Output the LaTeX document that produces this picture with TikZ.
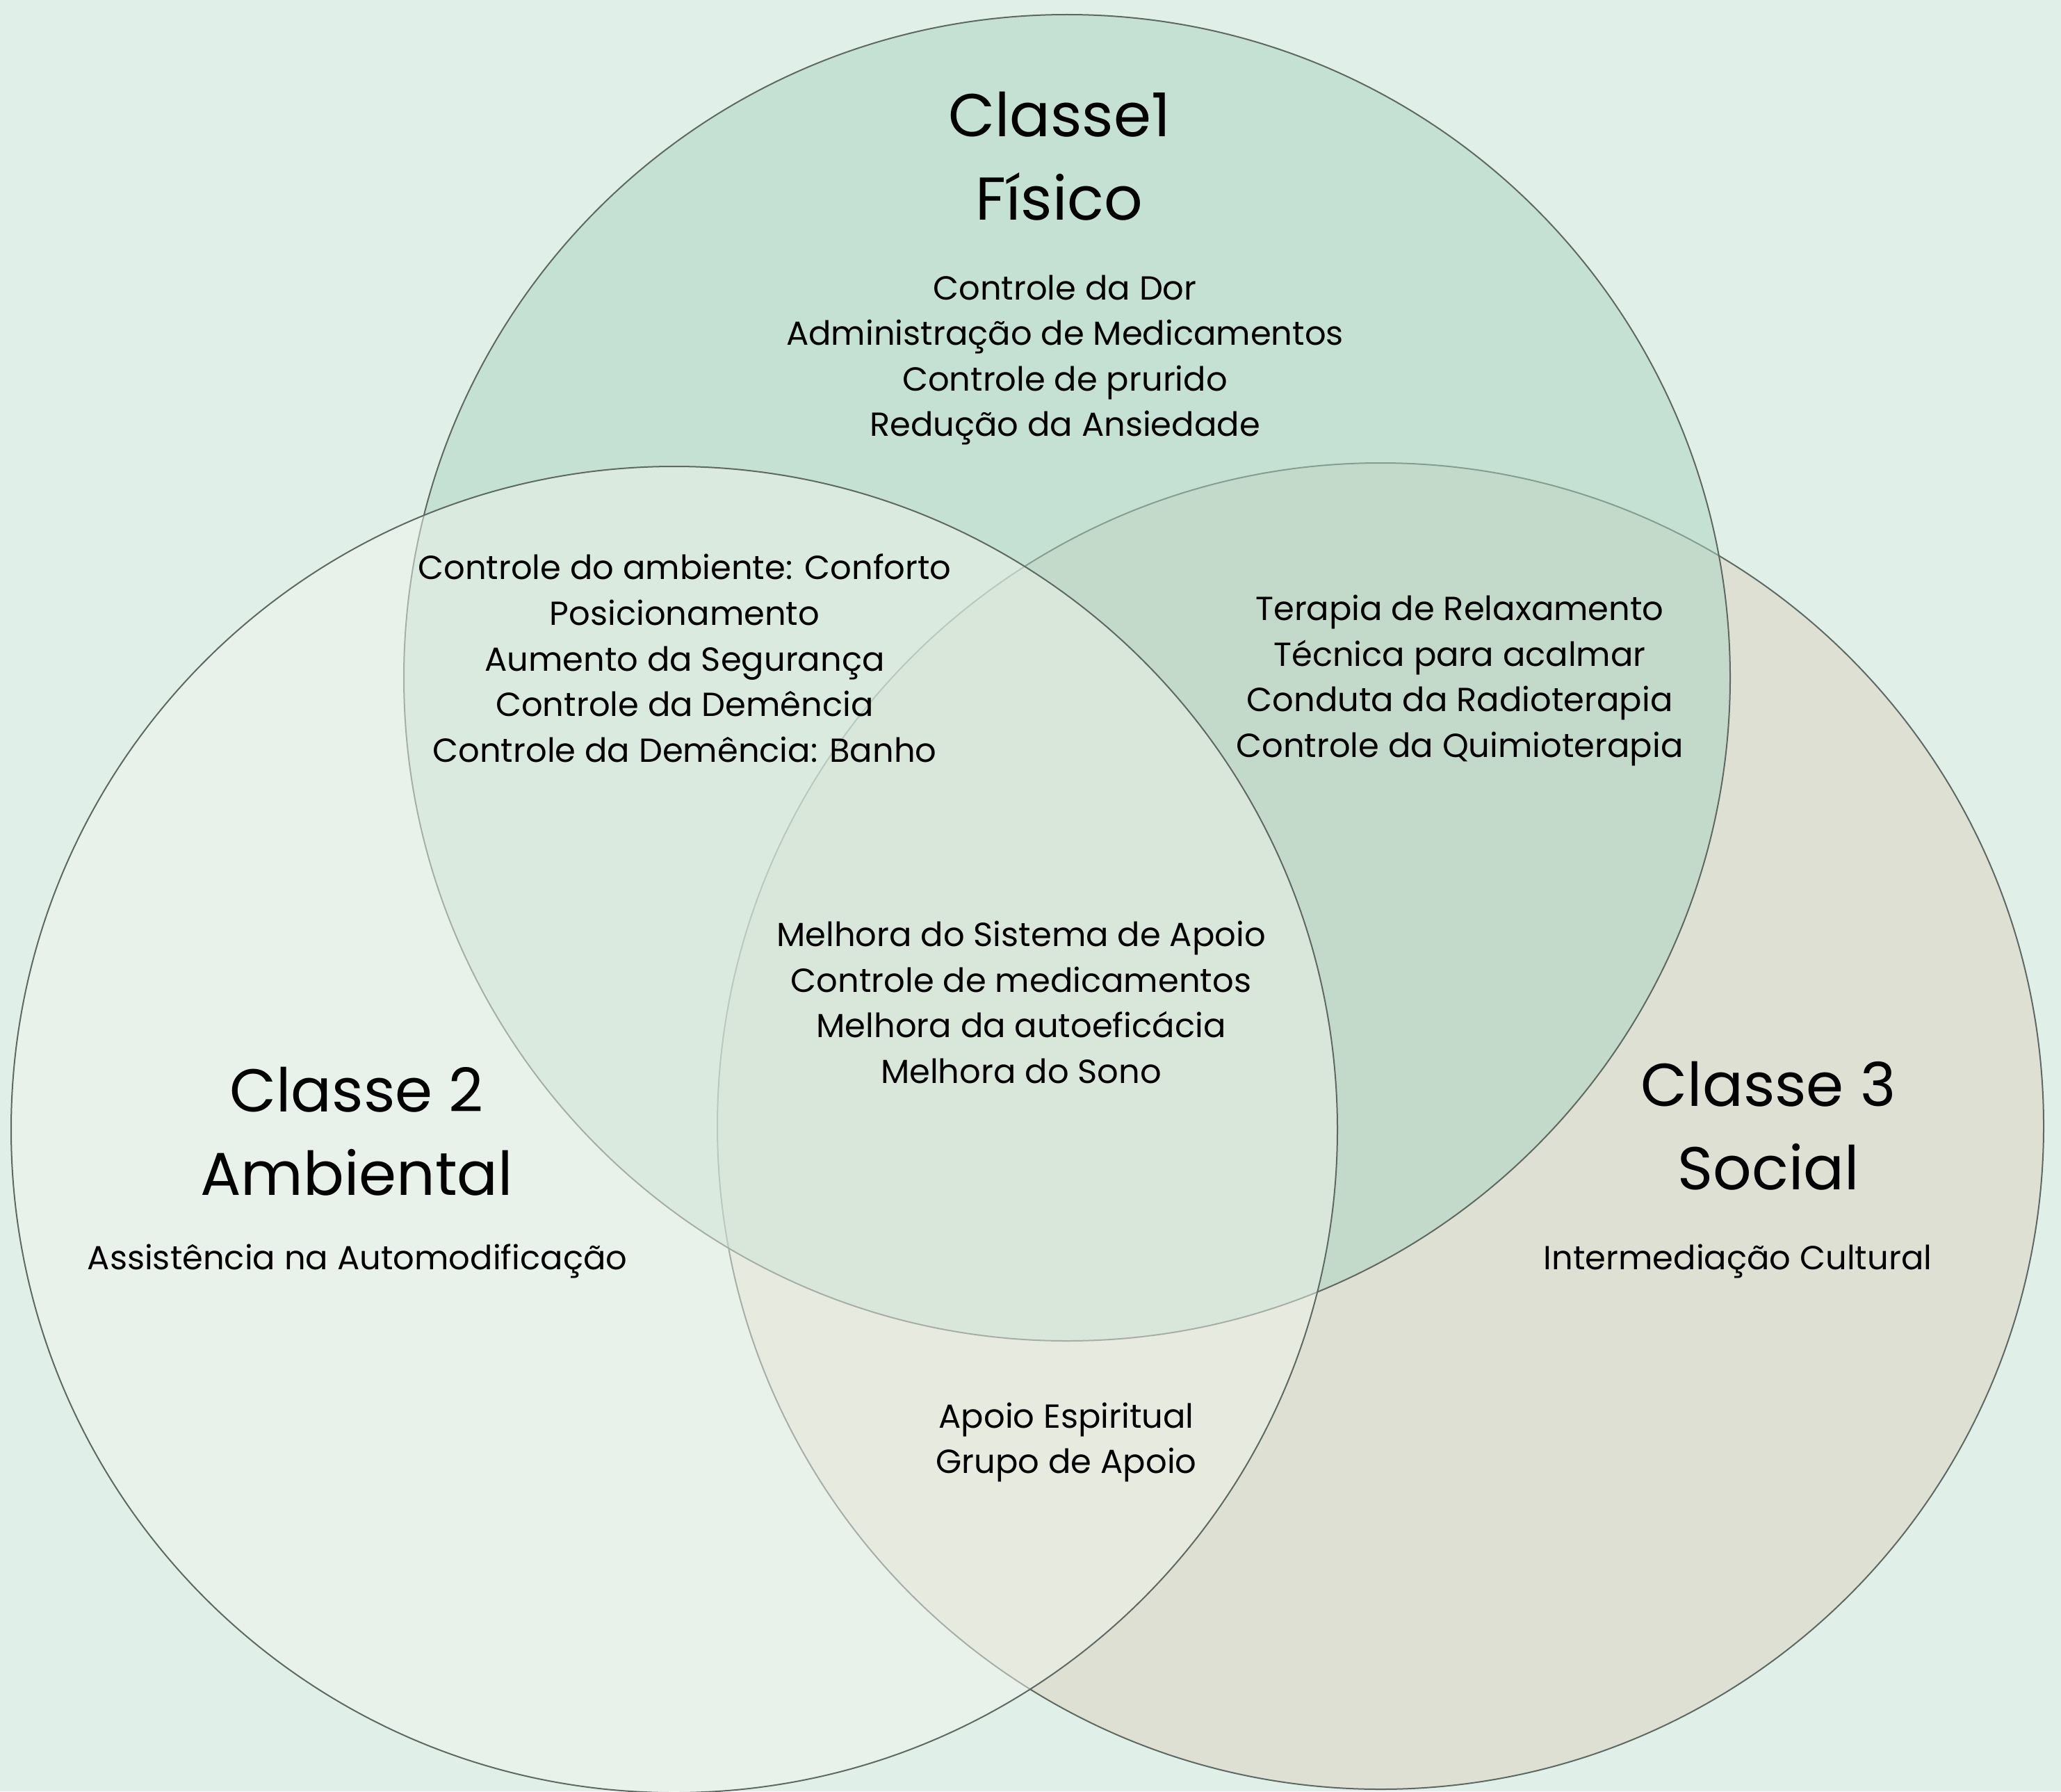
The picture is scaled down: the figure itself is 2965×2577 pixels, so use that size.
\documentclass[tikz,border=0pt]{standalone}
\usepackage{fontspec}
\setmainfont{Poppins}
\definecolor{bg}{RGB}{224,240,232}
\definecolor{fis}{RGB}{170,212,192}
\definecolor{amb}{RGB}{240,244,236}
\definecolor{soc}{RGB}{220,210,192}
\definecolor{edge}{RGB}{95,105,100}
\begin{document}
\begin{tikzpicture}[x=1pt,y=-1pt,
  setcircle/.style={circle, inner sep=0pt, minimum size=1908pt, draw=edge,
    line width=2pt, fill opacity=0.5},
  title/.style={font=\fontsize{87}{120}\selectfont, align=center, inner sep=0pt},
  item/.style={font=\fontsize{48}{65.6}\selectfont, align=center, inner sep=0pt}]
  % canvas
  \fill[bg] (0,0) rectangle (2965,2577);
  \useasboundingbox (0,0) rectangle (2965,2577);
  % the three sets, drawn social, physical, environmental
  \node[setcircle, fill=soc] (c3) at (1986,1620) {};
  \node[setcircle, fill=fis] (c1) at (1535,975) {};
  \node[setcircle, fill=amb] (c2) at (970,1625) {};
  % labels
  \node[title] (t1) at (1524,225) {Classe1\\Físico};
  \node[item] (l1) at (1532,518) {Controle da Dor\\Administração de Medicamentos\\Controle de prurido\\Redução da Ansiedade};
  \node[item] (l12) at (985,947) {Controle do ambiente: Conforto\\Posicionamento\\Aumento da Segurança\\Controle da Demência\\Controle da Demência: Banho};
  \node[item] (l13) at (2100,979) {Terapia de Relaxamento\\Técnica para acalmar\\Conduta da Radioterapia\\Controle da Quimioterapia};
  \node[item] (l123) at (1469,1442) {Melhora do Sistema de Apoio\\Controle de medicamentos\\Melhora da autoeficácia\\Melhora do Sono};
  \node[title] (t2) at (513,1628) {Classe 2\\Ambiental};
  \node[item] (l2) at (514,1814) {Assistência na Automodificação};
  \node[title] (t3) at (2544,1620) {Classe 3\\Social};
  \node[item] (l3) at (2500,1814) {Intermediação Cultural};
  \node[item] (l23) at (1534,2075) {Apoio Espiritual\\Grupo de Apoio};
\end{tikzpicture}
\end{document}
